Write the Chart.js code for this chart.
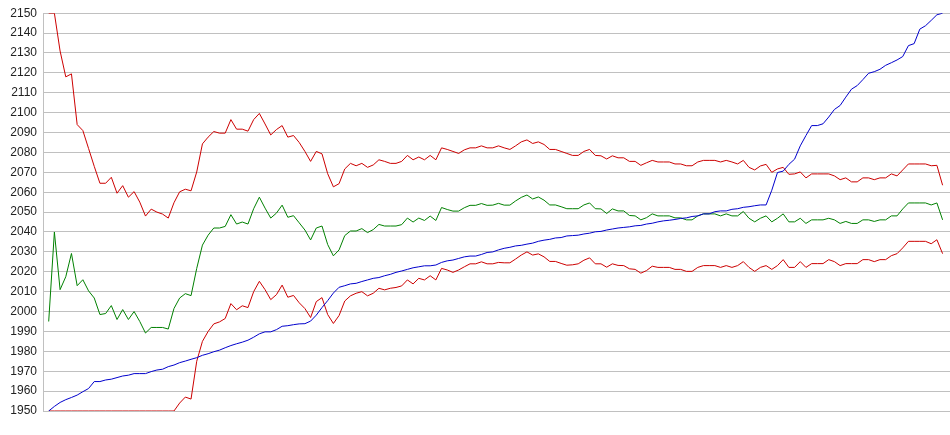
<!DOCTYPE html>
<html>
<head>
<meta charset="utf-8">
<script src="https://cdn.jsdelivr.net/npm/chart.js@4.4.1/dist/chart.umd.min.js"></script>
<style>
  html, body { margin: 0; padding: 0; background: #ffffff; }
  #wrap { width: 950px; height: 435px; position: relative; }
</style>
</head>
<body>
<div id="wrap"><canvas id="c" width="950" height="435"></canvas></div>
<script>
// Upper band (red, top)
const upperValues = [
  2150, 2150, 2131, 2118, 2119.5, 2094, 2091, 2082, 2073, 2064.5,
  2064.5, 2067.5, 2059.5, 2063.3, 2057.5, 2060.3, 2055, 2048, 2051.5, 2050,
  2049, 2047, 2054.7, 2060.2, 2061.5, 2060.7, 2070.2, 2084.3, 2087.7, 2090.5,
  2089.7, 2089.7, 2096.5, 2091.7, 2091.7, 2090.7, 2096.5, 2099.6, 2094.3, 2088.8,
  2091.5, 2093.5, 2087.7, 2088.5, 2085, 2080.5, 2075.5, 2080.5, 2079.3, 2069.3,
  2062.7, 2064.3, 2071.7, 2074.5, 2073.3, 2074.5, 2072.5, 2073.7, 2076.3, 2075.5,
  2074.5, 2074.5, 2075.5, 2078.5, 2076.3, 2077.7, 2076.3, 2078.5, 2076.3, 2082.3,
  2081.5, 2080.5, 2079.5, 2081.3, 2082.3, 2082.3, 2083.3, 2082.3, 2082.3, 2083.3,
  2082.3, 2081.5, 2083.3, 2085.3, 2086.3, 2084.5, 2085.3, 2084, 2081.5, 2081.5,
  2080.5, 2079.5, 2078.5, 2078.5, 2080.5, 2081.5, 2078.5, 2078.3, 2076.7, 2078.3,
  2077.3, 2077.3, 2075.5, 2075.5, 2073.5, 2074.8, 2076, 2075.2, 2075.2, 2075.2,
  2074.2, 2074.2, 2073.3, 2073.3, 2075.2, 2076, 2076, 2076, 2075.2, 2076,
  2075.2, 2074.2, 2076, 2072.5, 2071.2, 2073.2, 2074, 2070, 2071.7, 2072.5,
  2069, 2069.2, 2070.2, 2067.2, 2069.2, 2069.2, 2069.2, 2069.2, 2068.2, 2066.3,
  2067.2, 2065.2, 2065.2, 2067.2, 2067.2, 2066.3, 2067.2, 2067.2, 2069.2, 2068.2,
  2071.2, 2074.2, 2074.2, 2074.2, 2074.2, 2073.3, 2073.5, 2063.5
];

// Middle (green)
const middleValues = [
  1995, 2040, 2011, 2017.5, 2029.2, 2013, 2016, 2010.4, 2006.8, 1998.5,
  1999, 2003, 1996, 2001, 1996, 2000, 1995, 1989.2, 1992, 1992,
  1992, 1991.2, 2001.5, 2006.8, 2009, 2008, 2021.7, 2033.4, 2038.4, 2042,
  2042, 2042.8, 2048.7, 2044, 2045, 2044, 2051.7, 2057.5, 2052, 2047,
  2049.5, 2053.5, 2047.4, 2048.2, 2044.6, 2041, 2036, 2042, 2043, 2033.7,
  2028, 2031, 2038.2, 2040.5, 2040.5, 2041.7, 2039.7, 2041.2, 2043.8, 2043,
  2043, 2043, 2043.7, 2047, 2045, 2047, 2045.8, 2048, 2045.8, 2052.3,
  2051.3, 2050.5, 2050.5, 2052.2, 2053.4, 2053.4, 2054.3, 2053.4, 2053.5, 2054.4,
  2053.5, 2053.5, 2055.6, 2057.4, 2058.6, 2056.6, 2057.6, 2056, 2053.6, 2053.6,
  2052.7, 2051.7, 2051.7, 2051.7, 2053.6, 2054.6, 2051.7, 2051.6, 2049.3, 2051.6,
  2050.6, 2050.6, 2048.3, 2048.1, 2046.1, 2047.2, 2049.1, 2048.1, 2048.1, 2048.1,
  2047.1, 2047.1, 2046.1, 2046.1, 2048.1, 2049.1, 2049.1, 2049.1, 2048.1, 2049.1,
  2048.1, 2048.1, 2050.3, 2046.9, 2045.1, 2046.9, 2048.1, 2045.1, 2046.9, 2049.1,
  2045.1, 2045.1, 2046.9, 2044.3, 2046.1, 2046.1, 2046.1, 2046.9, 2046.1, 2044.3,
  2045.3, 2044.3, 2044.3, 2046.1, 2046.1, 2045.3, 2046.1, 2046.1, 2048.1, 2048.1,
  2051.6, 2054.6, 2054.6, 2054.6, 2054.6, 2053.6, 2054.6, 2046.1
];

// Lower band (red, bottom)
const lowerValues = [
  1950, 1950, 1950, 1950, 1950, 1950, 1950, 1950, 1950, 1950,
  1950, 1950, 1950, 1950, 1950, 1950, 1950, 1950, 1950, 1950,
  1950, 1950, 1950, 1954, 1957, 1956, 1975, 1985, 1990, 1993.8,
  1994.8, 1996.5, 2004, 2000.9, 2002.9, 2002, 2010, 2015.2, 2011, 2006,
  2008.5, 2013.3, 2007.2, 2008.1, 2004.4, 2001.5, 1997, 2005, 2007, 1998.5,
  1994, 1998, 2005.3, 2007.9, 2009.2, 2010, 2007.9, 2009.2, 2011.7, 2010.9,
  2011.7, 2012.1, 2012.9, 2015.9, 2013.9, 2016.7, 2015.9, 2018, 2015.9, 2021.7,
  2020.9, 2019.7, 2020.9, 2022.5, 2024, 2024, 2025, 2024, 2024, 2024.7,
  2024.5, 2024.5, 2026.4, 2028.4, 2030, 2028.4, 2029, 2027.5, 2025.2, 2025.2,
  2024.2, 2023.3, 2023.5, 2024, 2025.8, 2027, 2024, 2024, 2022.3, 2024,
  2023.2, 2023.1, 2021.5, 2021.2, 2019.3, 2020.6, 2022.8, 2022.2, 2022.2, 2022.2,
  2021.2, 2021.2, 2020.2, 2020.2, 2022.2, 2023.1, 2023.1, 2023.1, 2022.2, 2023.1,
  2022.2, 2023.1, 2025.1, 2022.2, 2020.2, 2022.2, 2023.1, 2021.2, 2023.1, 2026.1,
  2022.2, 2022.2, 2025.1, 2022.2, 2024.1, 2024.1, 2024.1, 2026.1, 2025.1, 2023.1,
  2024.1, 2024.1, 2024.1, 2026.1, 2026.1, 2025.1, 2026.1, 2026.1, 2028.1, 2029.1,
  2032, 2035.3, 2035.3, 2035.3, 2035.3, 2034.1, 2036.1, 2029.1
];

// Rising series (blue)
const risingValues = [
  1950, 1952.3, 1954.3, 1955.7, 1956.8, 1958, 1959.7, 1961.3, 1964.8, 1964.8,
  1965.6, 1966, 1966.8, 1967.6, 1968, 1968.8, 1968.8, 1968.8, 1969.8, 1970.6,
  1971, 1972.3, 1973.1, 1974.3, 1975.1, 1976, 1976.8, 1978, 1978.8, 1979.8,
  1980.6, 1981.8, 1982.9, 1983.8, 1984.6, 1985.6, 1987.1, 1988.8, 1989.8, 1989.8,
  1990.9, 1992.6, 1992.9, 1993.4, 1993.8, 1993.9, 1995.2, 1998.2, 2002, 2005.5,
  2009.3, 2012.2, 2013, 2013.9, 2014.2, 2015.1, 2015.9, 2016.7, 2017.1, 2018,
  2018.7, 2019.7, 2020.4, 2021.2, 2022, 2022.5, 2023, 2023, 2023.4, 2024.7,
  2025.5, 2025.9, 2026.7, 2027.5, 2027.9, 2027.9, 2028.7, 2029.7, 2030, 2031,
  2031.8, 2032.3, 2033, 2033.3, 2033.9, 2034.4, 2035.3, 2035.9, 2036.3, 2037,
  2037.2, 2038, 2038.2, 2038.4, 2039, 2039.4, 2040.1, 2040.3, 2041, 2041.5,
  2042, 2042.3, 2042.6, 2043.1, 2043.3, 2044, 2044.4, 2045.1, 2045.6, 2045.9,
  2046.3, 2046.8, 2047.1, 2047.8, 2048.1, 2049.1, 2049.1, 2050.2, 2050.6, 2050.6,
  2051.4, 2051.7, 2052.4, 2052.7, 2053.2, 2053.6, 2053.6, 2061, 2069.9, 2070.6,
  2074, 2076.6, 2083.3, 2088.5, 2093.5, 2093.5, 2094.4, 2097.8, 2101.6, 2103.6,
  2107.8, 2111.8, 2113.6, 2116.6, 2119.8, 2120.6, 2121.8, 2123.8, 2125.1, 2126.5,
  2128.2, 2133.7, 2134.7, 2142, 2143.7, 2146.4, 2149.2, 2150
];

// x positions (step index, 1-based)
const steps = upperValues.map((_, i) => i + 1);

// y-axis tick range
const yMin = 1950;
const yMax = 2150;
const yStep = 10;

const RED = '#cc0000';
const GREEN = '#008000';
const BLUE = '#0000cc';

function toXY(vals) {
  return vals.map((v, i) => ({ x: steps[i], y: v }));
}

new Chart(document.getElementById('c'), {
  type: 'line',
  data: {
    datasets: [
      { label: 'rising', data: toXY(risingValues), borderColor: BLUE },
      { label: 'lower', data: toXY(lowerValues), borderColor: RED },
      { label: 'middle', data: toXY(middleValues), borderColor: GREEN },
      { label: 'upper', data: toXY(upperValues), borderColor: RED }
    ]
  },
  options: {
    responsive: false,
    animation: false,
    devicePixelRatio: 1,
    layout: { padding: { top: 10, bottom: 24, left: 0, right: 0 } },
    elements: {
      line: { borderWidth: 1, tension: 0, fill: false },
      point: { radius: 0, hoverRadius: 0 }
    },
    plugins: { legend: { display: false }, tooltip: { enabled: false } },
    scales: {
      x: {
        type: 'linear',
        display: false,
        min: 0,
        max: 159.3
      },
      y: {
        min: yMin,
        max: yMax,
        afterFit: (scale) => { scale.width = 43; },
        ticks: {
          stepSize: yStep,
          padding: 6,
          color: '#222222',
          font: { family: 'Liberation Sans, Arial, sans-serif', size: 12 },
          callback: (value) => String(value)
        },
        grid: { color: '#c0c0c0', lineWidth: 1, drawTicks: false },
        border: { display: true, color: '#c0c0c0', width: 1 }
      }
    }
  }
});
</script>
</body>
</html>
